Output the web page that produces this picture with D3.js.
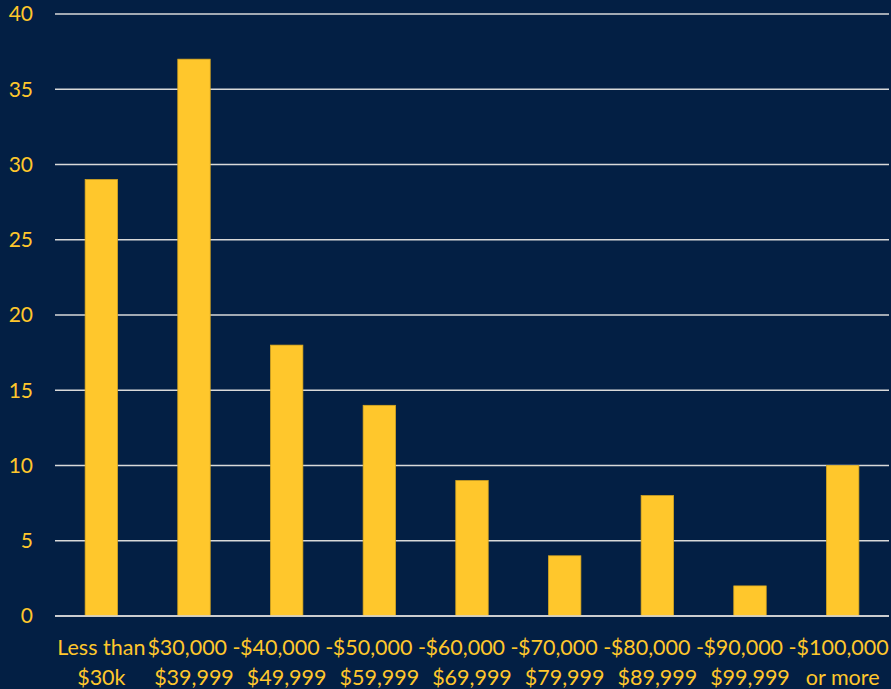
<!DOCTYPE html>
<html>
<head>
<meta charset="utf-8">
<script src="https://cdn.jsdelivr.net/npm/d3@7"></script>
<style>
  body { margin: 0; background: #031f44; }
  svg { display: block; }
</style>
</head>
<body>
<svg id="chart"></svg>
<script>
const categories = ["Less than $30k", "$30,000 - $39,999", "$40,000 - $49,999", "$50,000 - $59,999",
  "$60,000 - $69,999", "$70,000 - $79,999", "$80,000 - $89,999", "$90,000 - $99,999", "$100,000 or more"];
const labelLines = [["Less than", "$30k"], ["$30,000 -", "$39,999"], ["$40,000 -", "$49,999"],
  ["$50,000 -", "$59,999"], ["$60,000 -", "$69,999"], ["$70,000 -", "$79,999"],
  ["$80,000 -", "$89,999"], ["$90,000 -", "$99,999"], ["$100,000", "or more"]];
const values = [29, 37, 18, 14, 9, 4, 8, 2, 10];
const yTicks = [0, 5, 10, 15, 20, 25, 30, 35, 40];

const width = 891, height = 689;
const margin = { top: 14, right: 2, bottom: 73, left: 55 };

const svg = d3.select("#chart")
  .attr("width", width)
  .attr("height", height)
  .style("font-family", "Lato, 'Open Sans', sans-serif");

svg.append("rect").attr("width", width).attr("height", height).attr("fill", "#031f44");

const x = d3.scaleBand()
  .domain(categories)
  .range([margin.left, width - margin.right])
  .paddingInner(0.65)
  .paddingOuter(0.325);

const y = d3.scaleLinear()
  .domain([0, 40])
  .range([height - margin.bottom, margin.top]);

// gridlines
svg.append("g")
  .selectAll("line")
  .data(yTicks)
  .join("line")
  .attr("x1", margin.left)
  .attr("x2", width - margin.right)
  .attr("y1", d => y(d))
  .attr("y2", d => y(d))
  .attr("stroke", "#d9d9d9")
  .attr("stroke-width", 1.5);

// y labels
svg.append("g")
  .selectAll("text")
  .data(yTicks)
  .join("text")
  .attr("x", 33)
  .attr("y", d => y(d))
  .attr("dy", "0.35em")
  .attr("text-anchor", "end")
  .attr("fill", "#ffc72c")
  .style("font-size", "21px")
  .text(d => d);

// bars
svg.append("g")
  .selectAll("rect")
  .data(values)
  .join("rect")
  .attr("x", (d, i) => x(categories[i]))
  .attr("width", x.bandwidth())
  .attr("y", d => y(d))
  .attr("height", d => y(0) - y(d))
  .attr("fill", "#ffc72c")
  .attr("stroke", "#d9a81f")
  .attr("stroke-width", 0.75);

// baseline on top
svg.append("line")
  .attr("x1", margin.left).attr("x2", width - margin.right)
  .attr("y1", y(0)).attr("y2", y(0))
  .attr("stroke", "#d9d9d9").attr("stroke-width", 1.5);

// x labels
const xl = svg.append("g")
  .selectAll("text")
  .data(categories)
  .join("text")
  .attr("text-anchor", "middle")
  .attr("fill", "#ffc72c")
  .style("font-size", "21.5px");

xl.selectAll("tspan")
  .data((d, i) => labelLines[i].map(t => ({ t, c: d })))
  .join("tspan")
  .attr("x", d => x(d.c) + x.bandwidth() / 2)
  .attr("y", (d, j) => 655 + j * 30)
  .text(d => d.t);
</script>
</body>
</html>
